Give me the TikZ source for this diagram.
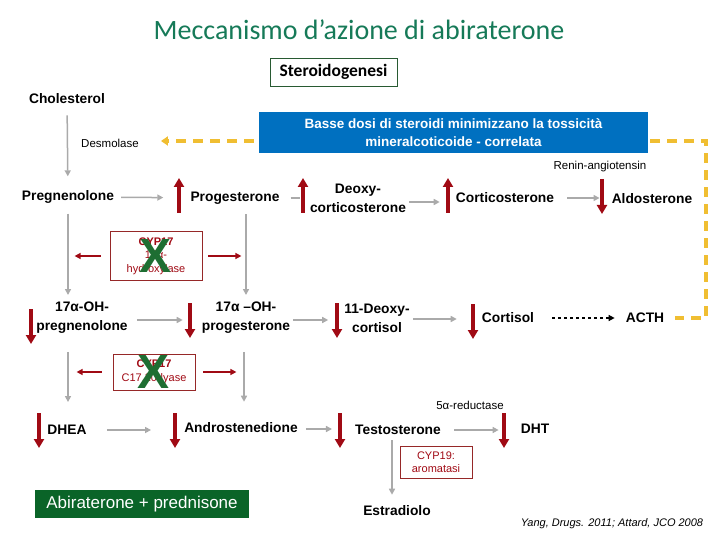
\documentclass[tikz,border=0pt]{standalone}
\usepackage{fontspec}
\setmainfont{Liberation Sans}
\newfontfamily\calibri{Carlito}
\usepackage{xcolor}
\usepackage{tikz}
\usetikzlibrary{positioning, arrows.meta, shapes.geometric}

\definecolor{titlegreen}{RGB}{22,122,88}
\definecolor{boxgreen}{RGB}{40,90,50}
\definecolor{lowblue}{RGB}{0,112,192}
\definecolor{darkred}{RGB}{160,10,20}
\definecolor{boxred}{RGB}{150,40,40}
\definecolor{xgreen}{RGB}{30,110,50}
\definecolor{abigreen}{RGB}{10,100,40}
\definecolor{dashyellow}{RGB}{240,190,50}
\definecolor{arrgray}{RGB}{170,170,170}

\begin{document}
\begin{tikzpicture}[x=1pt, y=-1pt,
  mol/.style={font=\fontsize{13.8}{19}\selectfont\bfseries, align=center, inner sep=2pt},
  note/.style={font=\fontsize{11.5}{13}\selectfont, inner sep=1pt},
  enzbox/.style={draw=boxred, thick, align=center, text=darkred, inner sep=1pt,
                 font=\fontsize{11}{13.5}\selectfont},
  grayarr/.style={draw=arrgray, line width=1.5pt, -{Triangle[length=6pt,width=6pt]}},
  updown/.style={draw=darkred, line width=4pt, -{Triangle[length=9pt,width=10pt]}},
  redarr/.style={draw=darkred, line width=2pt, -{Triangle[length=6pt,width=6pt]}},
  yellowdash/.style={draw=dashyellow, line width=3.5pt, dash pattern=on 10pt off 7pt},
  nox/.style={text=xgreen, font=\fontsize{48}{48}\selectfont\bfseries, inner sep=0pt}
]
  \useasboundingbox (0,0) rectangle (720,540);

  % heading
  \node[text=titlegreen, font=\calibri\fontsize{28}{32}\selectfont] (title) at (359,30)
    {Meccanismo d’azione di abiraterone};
  \node[draw=boxgreen, thick, minimum width=127, minimum height=28,
        font=\calibri\fontsize{17.5}{19}\selectfont\bfseries] (sg) at (333.5,72) {Steroidogenesi};
  \node[fill=lowblue, text=white, minimum width=389, minimum height=41, align=center,
        font=\fontsize{13.5}{18}\selectfont\bfseries] (low) at (453.5,132.5)
    {Basse dosi di steroidi minimizzano la tossicità\\mineralcoticoide - correlata};

  % steroids
  \node[mol] (chol) at (67,99) {Cholesterol};
  \node[note] (desm) at (110,143) {Desmolase};
  \node[note] (renin) at (600,167) {Renin-angiotensin};
  \node[mol] (preg) at (68,197) {Pregnenolone};
  \node[mol] (prog) at (235,198) {Progesterone};
  \node[mol] (doc) at (358,198) {Deoxy-\\corticosterone};
  \node[mol] (cort) at (505,198) {Corticosterone};
  \node[mol] (aldo) at (652,199) {Aldosterone};

  \node[mol] (ohpreg) at (82,318) {17α-OH-\\pregnenolone};
  \node[mol] (ohprog) at (246,318) {17α –OH-\\progesterone};
  \node[mol] (deoxc) at (377,318) {11-Deoxy-\\cortisol};
  \node[mol] (cortisol) at (508,318) {Cortisol};
  \node[mol] (acth) at (645,318) {ACTH};

  \node[note] (red5) at (470,405) {5α-reductase};
  \node[mol] (dhea) at (67,430) {DHEA};
  \node[mol] (andro) at (241,428) {Androstenedione};
  \node[mol] (testo) at (398,430) {Testosterone};
  \node[mol] (dht) at (535,429) {DHT};
  \node[mol] (estr) at (397,511) {Estradiolo};

  % enzymes
  \node[enzbox, minimum width=92, minimum height=49] (cyp1) at (156,256)
    {\textbf{CYP17}\\17α-\\hydroxylase};
  \node[nox] (x1) at (cyp1) {X};
  \node[enzbox, minimum width=82, minimum height=36] (cyp2) at (154,372)
    {\textbf{CYP17}\\C17,20-lyase};
  \node[nox] (x2) at (cyp2) {X};
  \node[enzbox, minimum width=72, minimum height=32] (cyp19) at (436,462)
    {CYP19:\\aromatasi};

  \node[fill=abigreen, text=white, minimum width=214, minimum height=28,
        font=\fontsize{17}{19}\selectfont] (abi) at (142,504) {Abiraterone + prednisone};
  \node[font=\fontsize{11}{13}\selectfont\itshape] (cite) at (612,524)
    {Yang, Drugs. 2011; Attard, JCO 2008};

  % gray pathway
  \draw[grayarr, shorten <=9pt, shorten >=12pt] (chol) -- (preg);
  \draw[grayarr, shorten <=8pt, shorten >=5pt] (preg.south) -- (preg.south |- ohpreg.north);
  \draw[grayarr, shorten <=8pt, shorten >=5pt] ([xshift=11pt]prog.south) -- ([xshift=11pt]prog.south |- ohprog.north);
  \draw[grayarr, shorten <=16pt, shorten >=21pt] (preg |- ohpreg.south) -- (preg |- dhea.north);
  \draw[grayarr, shorten <=16pt, shorten >=19pt] ([xshift=-2pt]ohprog.south) -- ([xshift=-2pt]ohprog.south |- andro.north);
  \draw[grayarr, shorten <=3pt, shorten >=9pt] ([xshift=-6pt]testo.south) -- ([xshift=-6pt]testo.south |- estr.north);

  \draw[grayarr, shorten <=5pt, shorten >=25pt] (preg) -- (prog);
  \draw[draw=arrgray, line width=1.5pt, shorten <=9pt, shorten >=8pt] (prog) -- (prog -| doc.west);
  \draw[grayarr, shorten <=1pt, shorten >=14pt] ([yshift=-4pt]doc.east) -- ([yshift=-4pt]doc.east -| cort.west);
  \draw[grayarr, shorten <=11pt, shorten >=10pt] (cort) -- (cort -| aldo.west);
  \draw[grayarr, shorten <=7pt, shorten >=17pt] ([yshift=-2pt]ohpreg.east) -- ([yshift=-2pt]ohpreg.east -| ohprog.west);
  \draw[grayarr, shorten <=1pt, shorten >=14pt] ([yshift=-2pt]ohprog.east) -- ([yshift=-2pt]ohprog.east -| deoxc.west);
  \draw[grayarr, shorten <=1pt, shorten >=23pt] ([yshift=-1pt]deoxc.east) -- ([yshift=-1pt]deoxc.east -| cortisol.west);
  \draw[grayarr, shorten <=18pt, shorten >=31pt] (dhea) -- (dhea -| andro.west);
  \draw[grayarr, shorten <=6pt, shorten >=21pt] ([yshift=-1pt]andro.east) -- ([yshift=-1pt]andro.east -| testo.west);
  \draw[grayarr, shorten <=11pt, shorten >=20pt] (testo) -- (testo -| dht.west);
  \draw[line width=1.5pt, dashed, -{Triangle[length=6pt,width=6pt]}, shorten <=16pt, shorten >=9pt]
    (cortisol) -- (cortisol -| acth.west);

  % enzyme side arrows
  \draw[redarr] ([xshift=-9pt]cyp1.west) -- ++(-26,0);
  \draw[redarr] ([xshift=6pt]cyp1.east) -- ++(33,0);
  \draw[redarr] ([xshift=-11pt]cyp2.west) -- ++(-25,0);
  \draw[redarr] ([xshift=8pt]cyp2.east) -- ++(33,0);

  % levels up / down
  \foreach \px in {179,303,448}
    \draw[updown] (\px,213) -- (\px,178);
  \foreach \px/\py in {602/179, 31/309, 190/303, 337/303, 473/304, 39/413, 175/413, 340/413, 504/413}
    \draw[updown] (\px,\py) -- (\px,\py+35);

  % feedback
  \coordinate (ycorner) at (706,141);
  \draw[yellowdash, -{Triangle[length=7pt,width=9pt]}, shorten <=5pt, shorten >=21pt]
    (low.west |- ycorner) -- (desm.east |- ycorner);
  \draw[yellowdash, shorten >=9pt] ([xshift=2pt]low.east |- ycorner) -- (ycorner) |- (acth.east);
\end{tikzpicture}
\end{document}
